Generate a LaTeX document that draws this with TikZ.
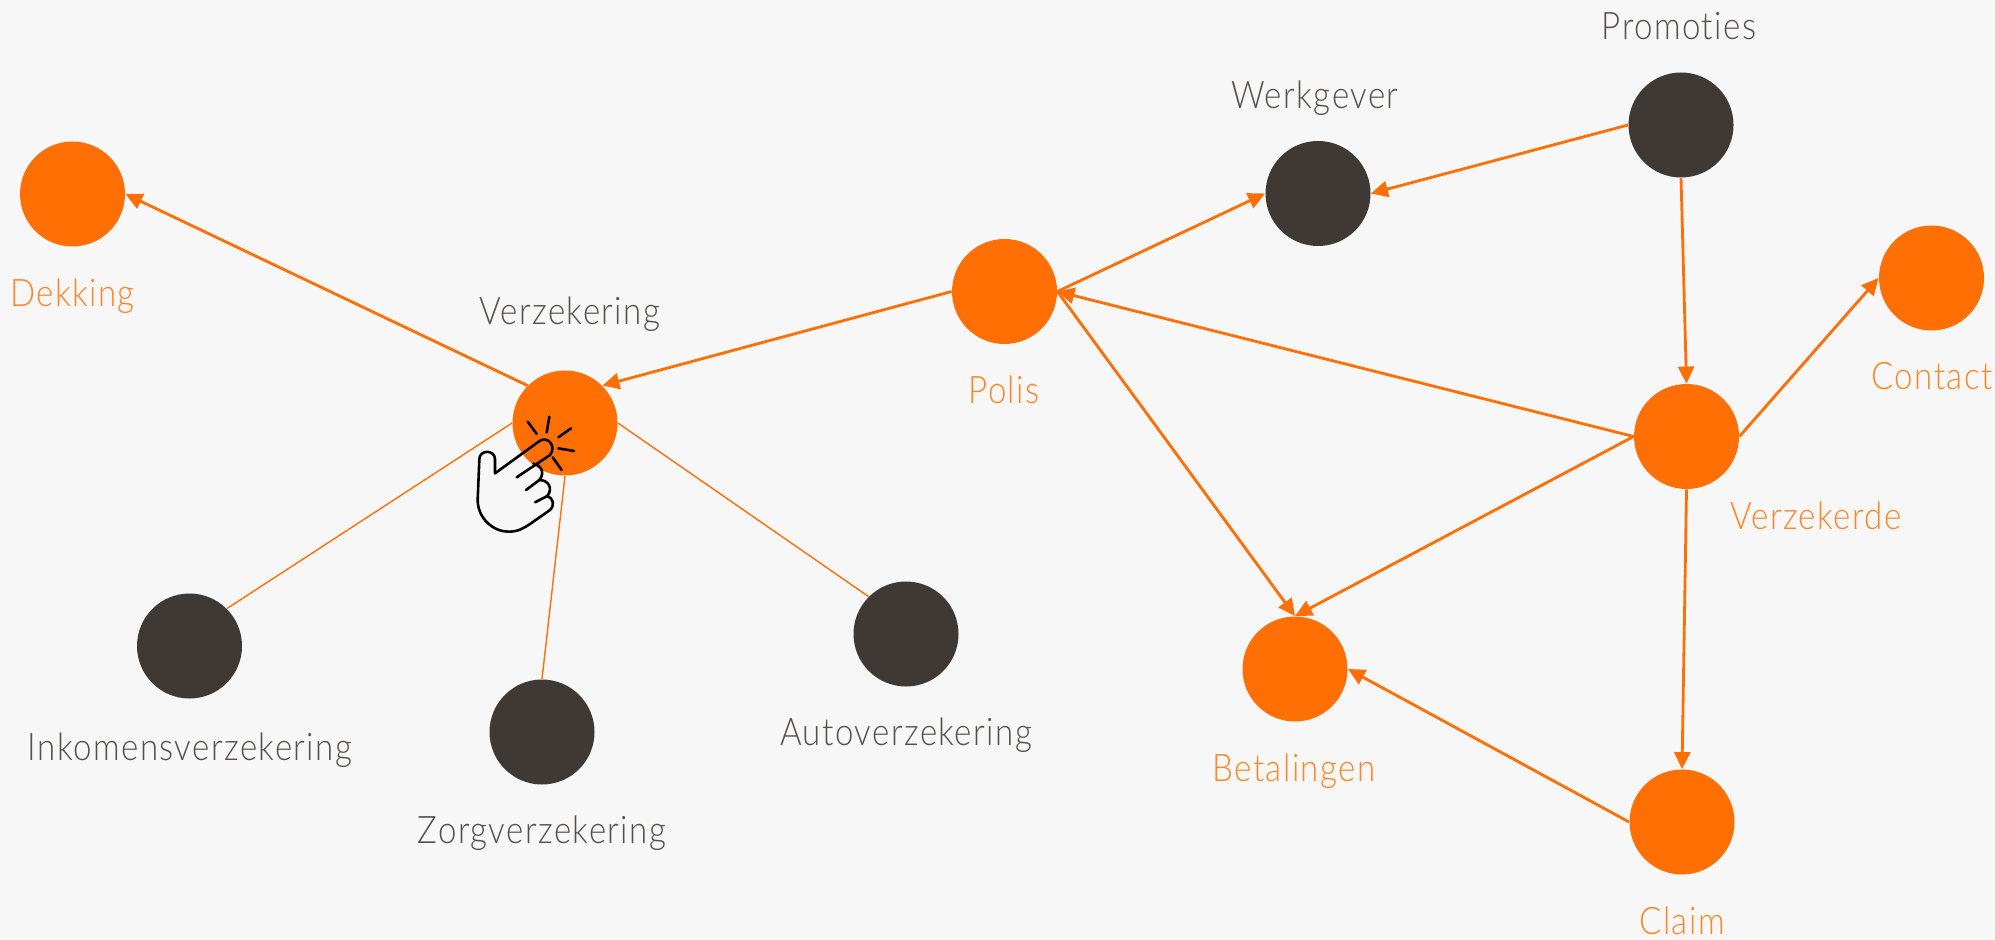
\documentclass[tikz,border=0pt]{standalone}
\usepackage{fontspec}
\setmainfont{Lato Light}[FakeStretch=0.87,LetterSpace=3.8,Ligatures=NoCommon,RawFeature={-liga;-clig;-dlig}]
\usetikzlibrary{arrows.meta}
\definecolor{org}{HTML}{FF6F03}
\definecolor{drk}{HTML}{3E3934}
\definecolor{bgc}{HTML}{F7F7F7}
\definecolor{txd}{HTML}{55504C}
\tikzset{
 x=0.5pt,y=-0.5pt,
 ent/.style={circle,inner sep=0pt,minimum size=52.5pt,draw=none},
 oc/.style={ent,fill=org},
 dc/.style={ent,fill=drk},
 lb/.style={anchor=base,inner sep=0pt,font=\fontsize{19}{19}\selectfont},
 ol/.style={lb,text=org!85!white},
 dl/.style={lb,text=txd},
 rel/.style={draw=org,line width=1.4pt,-{Triangle[length=8.5pt,width=8pt]}},
 plain/.style={draw=org,line width=.7pt},
 hand/.style={draw=black,line width=1.3pt,line cap=round,line join=round},
}
\begin{document}
\begin{tikzpicture}
\useasboundingbox[fill=bgc] (0,0) rectangle (1995,940);
\node[oc] (dek) at (72.5,194) {};
\node[oc] (ver) at (565,423) {};
\node[oc] (pol) at (1004.5,291.5) {};
\node[dc] (wer) at (1318,193.5) {};
\node[dc] (pro) at (1681,125) {};
\node[oc] (con) at (1931.5,278) {};
\node[oc] (vzk) at (1686.5,436.5) {};
\node[oc] (bet) at (1295,669) {};
\node[oc] (cla) at (1682,822) {};
\node[dc] (ink) at (189.5,646) {};
\node[dc] (zor) at (542,732) {};
\node[dc] (aut) at (906,634) {};
\node[ol] (tdek) at (72.5,307) {Dekking};
\node[dl] (tver) at (570,324.5) {Verzekering};
\node[ol] (tpol) at (1004,403.5) {Polis};
\node[dl] (twer) at (1315,108.5) {Werkgever};
\node[dl] (tpro) at (1679,39.5) {Promoties};
\node[ol] (tcon) at (1932,390) {Contact};
\node[ol] (tvzk) at (1816,530) {Verzekerde};
\node[ol] (tbet) at (1294,781) {Betalingen};
\node[ol] (tcla) at (1682,934) {Claim};
\node[dl] (tink) at (190,760) {Inkomensverzekering};
\node[dl] (tzor) at (542,843) {Zorgverzekering};
\node[dl] (taut) at (906,745) {Autoverzekering};
\draw[rel] (ver.north west) -- (dek.east);
\draw[rel] (pol.west) -- (ver.north east);
\draw[plain] (ver.west) -- (ink.north east);
\draw[plain] (ver.south) -- (zor.north);
\draw[plain] (ver.east) -- (aut.north west);
\draw[rel] (pol.east) -- (wer.west);
\draw[rel] (pol.east) -- (bet.north);
\draw[rel] (vzk.west) -- (pol.east);
\draw[rel] (vzk.west) -- (bet.north);
\draw[rel] (pro.west) -- (wer.east);
\draw[rel] (pro.south) -- (vzk.north);
\draw[rel] (vzk.east) -- (con.west);
\draw[rel] (vzk.south) -- (cla.north);
\draw[rel] (cla.west) -- (bet.east);
% hand, in reference pixels
\begin{scope}[shift={(440,340)},x=0.16667pt,y=-0.16667pt]
\draw[hand] (165,400) -- (300,302) .. controls (325,288) and (350,320) .. (330,345) -- (230,412);
\draw[hand] (165,400) -- (165,358) .. controls (165,328) and (118,328) .. (118,358)
  -- (113,480) .. controls (113,535) and (160,575) .. (205,575)
  .. controls (235,575) and (250,565) .. (270,552) -- (330,510)
  .. controls (345,495) and (340,475) .. (322,468);
\draw[hand] (280,371) .. controls (305,375) and (315,400) .. (298,420) -- (258,450);
\draw[hand] (298,420) .. controls (325,420) and (340,445) .. (322,468) -- (285,487);
\draw[hand] (263,245) -- (290,282);
\draw[hand] (328,230) -- (320,278);
\draw[hand] (393,265) -- (355,292);
\draw[hand] (355,325) -- (402,333);
\draw[hand] (338,352) -- (365,390);
\end{scope}
\end{tikzpicture}
\end{document}
